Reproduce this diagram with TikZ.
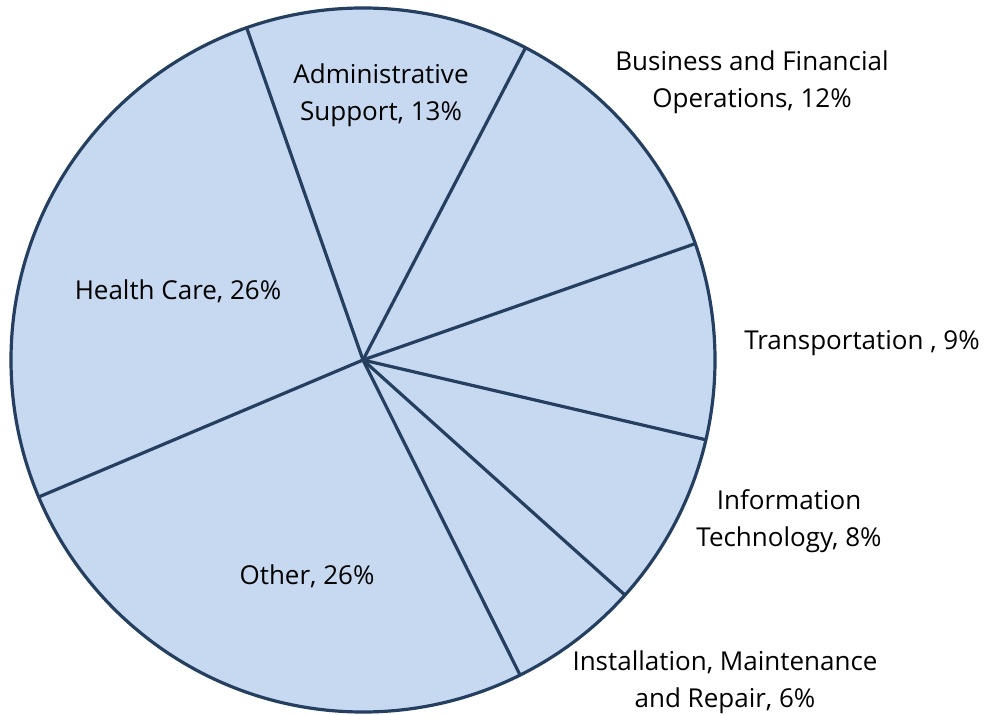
\documentclass[tikz,border=0pt]{standalone}
\usepackage{fontspec}
\setmainfont{Open Sans}
\definecolor{sliceline}{HTML}{243F60}
\definecolor{slicefill}{HTML}{C6D9F1}
\begin{document}
\begin{tikzpicture}[x=.75pt,y=.75pt,
    slice/.style={draw=sliceline,line width=2.4pt},
    lbl/.style={align=center,font=\fontsize{19.5}{27.75}\selectfont,inner sep=0pt}]
\useasboundingbox(0,0)rectangle(984,714);
\coordinate(c)at(363,354);
\fill[slicefill](c)circle(352);
\foreach \a in {109.3,62.5,19.3,-13.1,-41.9,-63.5,-157.1}
{
    \draw[slice](c)--++(\a:352);
}
\draw[slice](c)circle(352);
\node[lbl](admin)at(381,619){Administrative\\Support, 13\%};
\node[lbl](business)at(752,632){Business and Financial\\Operations, 12\%};
\node[lbl](health)at(178,423){Health Care, 26\%};
\node[lbl](transport)at(862,371){Transportation , 9\%};
\node[lbl](infotech)at(789,193){Information\\Technology, 8\%};
\node[lbl](other)at(307,138){Other, 26\%};
\node[lbl](install)at(725,32){Installation, Maintenance\\and Repair, 6\%};
\end{tikzpicture}
\end{document}
